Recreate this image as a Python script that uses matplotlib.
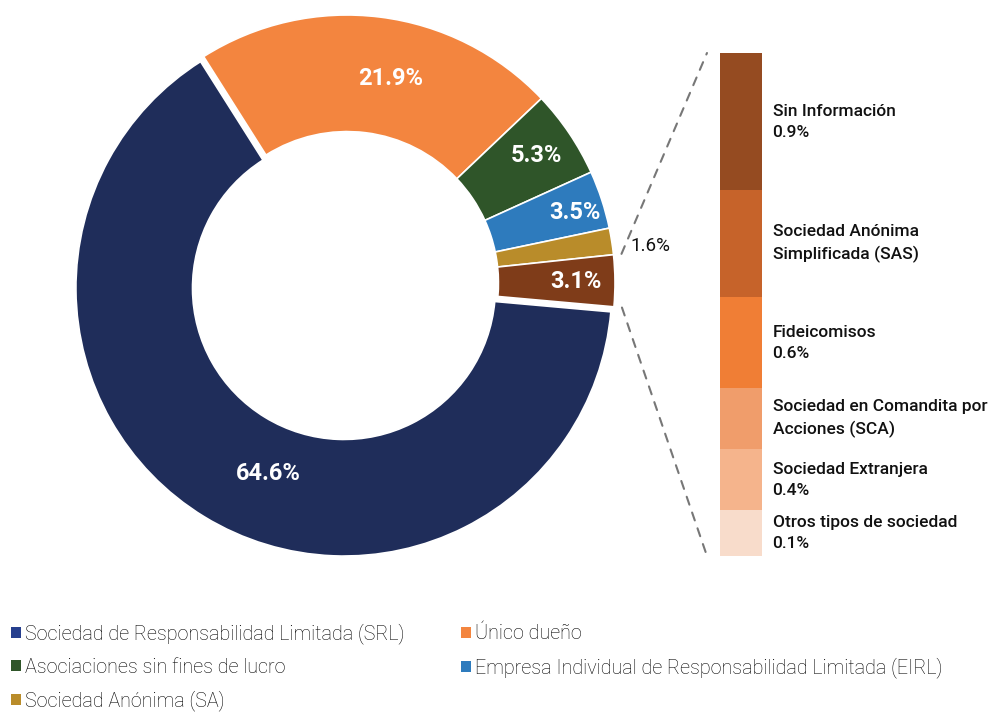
import numpy as np
import matplotlib
matplotlib.use("Agg")
import matplotlib.pyplot as plt
from matplotlib.patches import Patch, ConnectionPatch

plt.rcParams['font.family'] = ['Roboto', 'DejaVu Sans']

# main donut data
tipos = ["Sociedad de Responsabilidad Limitada (SRL)", "Único dueño",
         "Asociaciones sin fines de lucro",
         "Empresa Individual de Responsabilidad Limitada (EIRL)",
         "Sociedad Anónima (SA)", "Otros"]
porcentajes = [64.6, 21.9, 5.3, 3.5, 1.6, 3.1]
colores = ["#1f2d5a", "#f3853f", "#2f5529", "#2e7bbd", "#b98c2a", "#7f3c19"]
colores_leyenda = ["#263f8e", "#f3853f", "#2f5529", "#2e7bbd", "#b98c2a"]

# breakdown of "Otros" (3.1%)
otros_tipos = ["Sin Información", "Sociedad Anónima\nSimplificada (SAS)", "Fideicomisos",
               "Sociedad en Comandita por\nAcciones (SCA)", "Sociedad Extranjera",
               "Otros tipos de sociedad"]
otros_valores = [0.9, 0.7, 0.6, 0.4, 0.4, 0.1]
otros_mostrar_pct = [True, False, True, False, True, True]
otros_colores = ["#954b21", "#c6632a", "#f07e35", "#f09d6b", "#f5b48c", "#f8dccb"]

W, H = 988, 713
fig = plt.figure(figsize=(W / 100, H / 100), dpi=100)

# ---- donut ----
cx, cy, r = 347, 283, 268
ax = fig.add_axes([(cx - r) / W, (H - cy - r) / H, 2 * r / W, 2 * r / H])
explode = [0.022, 0, 0, 0, 0, 0]
wedges, _ = ax.pie(porcentajes, colors=colores, startangle=-5.1, counterclock=False,
                   explode=explode, wedgeprops=dict(width=0.435, edgecolor="white", linewidth=1.2))
ax.set_xlim(-1, 1)
ax.set_ylim(-1, 1)
ax.set_aspect("equal")
ax.axis("off")

label_r = [0.77, 0.78, 0.85, 0.89, 1.14, 0.855]
label_shift = [9, -5, 0, -1, -2, 0]  # degrees
for w, p, lr, sh in zip(wedges, porcentajes, label_r, label_shift):
    ang = np.deg2rad((w.theta1 + w.theta2) / 2 + sh)
    x, y = lr * np.cos(ang), lr * np.sin(ang)
    if lr > 1:
        ax.text(x, y, f"{p:.1f}%", ha="center", va="center", fontsize=13.5, color="#111111")
    else:
        ax.text(x, y, f"{p:.1f}%", ha="center", va="center", fontsize=17,
                fontweight="bold", color="white")

# ---- stacked bar of "Otros" ----
bx0, bx1, by0, by1 = 720, 762, 53, 556
bax = fig.add_axes([bx0 / W, (H - by1) / H, (bx1 - bx0) / W, (by1 - by0) / H])
alto = np.maximum(otros_valores, 0.3)  # minimum visible height for tiny segments
base = np.concatenate([[0], np.cumsum(alto)[:-1]])
bax.bar(0, alto, bottom=base, width=1, color=otros_colores, edgecolor="none")
bax.set_xlim(-0.5, 0.5)
bax.set_ylim(alto.sum(), 0)
bax.axis("off")
for nombre, v, mostrar, b, h in zip(otros_tipos, otros_valores, otros_mostrar_pct, base, alto):
    txt = f"{nombre}\n{v:.1f}%" if mostrar else nombre
    bax.text(1.25, b + h / 2, txt, transform=bax.get_yaxis_transform(), ha="left", va="center",
             fontsize=12.5, fontweight="medium", color="#111111", linespacing=1.5)

# dashed connectors
th_top = np.deg2rad(wedges[-1].theta2)
th_bot = np.deg2rad(wedges[-1].theta1)
for th, yb in [(th_top, 0), (th_bot, alto.sum())]:
    con = ConnectionPatch(xyA=(1.03 * np.cos(th), 1.03 * np.sin(th)), coordsA=ax.transData,
                          xyB=(-0.31, yb), coordsB=bax.get_yaxis_transform(),
                          color="#777777", linestyle=(0, (4, 4)), linewidth=1.5)
    fig.add_artist(con)

# ---- legend ----
handles = [Patch(facecolor=c, edgecolor="none") for c in colores_leyenda]
orden = [0, 2, 4, 1, 3]
fig.legend([handles[i] for i in orden], [tipos[i] for i in orden], ncol=2,
           loc="upper left", bbox_to_anchor=(0.011, 1 - 623 / H), frameon=False,
           handlelength=0.5, handleheight=0.5, handletextpad=0.2,
           columnspacing=2.9, labelspacing=0.7, borderaxespad=0, borderpad=0,
           prop=dict(family=["Roboto", "DejaVu Sans"], weight="light", size=14.2))

fig.savefig("out.png", dpi=100, facecolor="white")
